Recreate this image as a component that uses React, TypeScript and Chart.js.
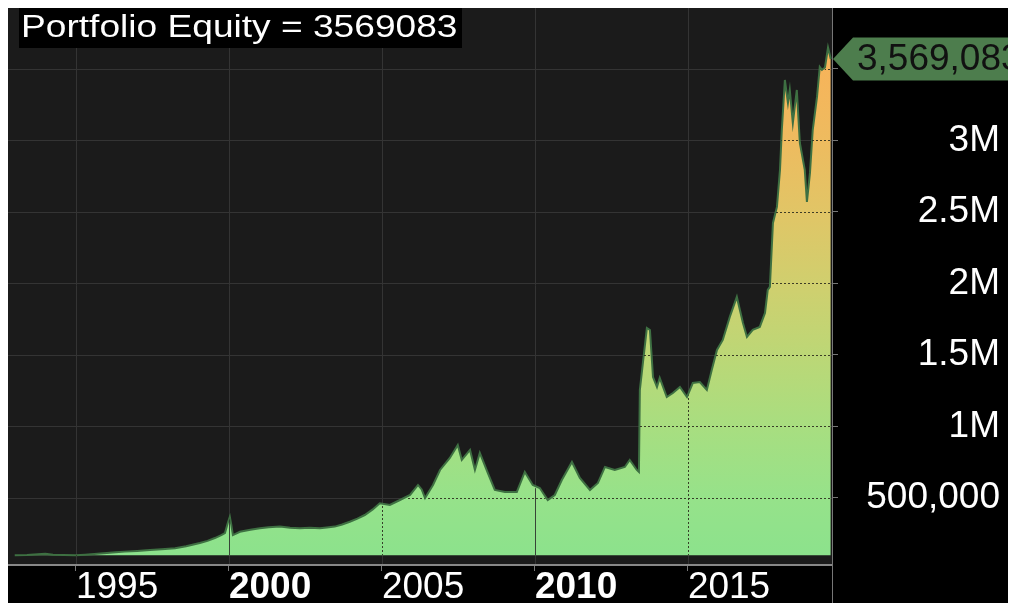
import React, { useEffect, useRef } from "react";
import { Chart, registerables } from "chart.js";

Chart.register(...registerables);

// ---- data ----
const years: number[] = [
  1993.0, 1993.4, 1993.75, 1994.0, 1994.25, 1994.6, 1995.0, 1995.3, 1995.7, 1996.01,
  1996.3, 1996.6, 1997.0, 1997.42, 1997.8, 1998.24, 1998.6, 1999.05, 1999.3, 1999.54,
  1999.75, 1999.87, 1999.97, 2000.03, 2000.08, 2000.13, 2000.36, 2000.7, 2001.01, 2001.3,
  2001.67, 2002.0, 2002.32, 2002.65, 2002.97, 2003.2, 2003.46, 2003.7, 2003.95, 2004.2,
  2004.44, 2004.7, 2004.93, 2005.26, 2005.59, 2005.92, 2006.18, 2006.3, 2006.41, 2006.67,
  2006.9, 2007.22, 2007.48, 2007.61, 2007.88, 2008.04, 2008.2, 2008.46, 2008.69, 2009.02,
  2009.41, 2009.67, 2009.93, 2010.16, 2010.42, 2010.65, 2010.88, 2011.21, 2011.47, 2011.8,
  2012.06, 2012.29, 2012.61, 2012.94, 2013.1, 2013.33, 2013.4, 2013.43, 2013.53, 2013.66,
  2013.76, 2013.86, 2013.99, 2014.08, 2014.31, 2014.51, 2014.74, 2014.97, 2015.16, 2015.39,
  2015.62, 2015.78, 2015.95, 2016.14, 2016.37, 2016.6, 2016.8, 2016.93, 2017.12, 2017.35,
  2017.52, 2017.61, 2017.68, 2017.78, 2017.91, 2018.01, 2018.07, 2018.17, 2018.27, 2018.33,
  2018.43, 2018.56, 2018.66, 2018.82, 2018.89, 2018.99, 2019.08, 2019.22, 2019.31, 2019.38,
  2019.48, 2019.58, 2019.67,
];

const equity: number[] = [
  100000, 102000, 106000, 110000, 104000, 102000, 100000, 104000, 110000, 115000,
  120000, 125000, 130000, 136000, 142000, 148000, 162000, 185000, 200000, 220000,
  240000, 255000, 330000, 369000, 310000, 241000, 264000, 278000, 288000, 295000,
  300000, 292000, 288000, 292000, 288000, 294000, 300000, 315000, 334000, 356000,
  381000, 420000, 463000, 451000, 486000, 521000, 591000, 560000, 500000, 591000,
  696000, 780000, 871000, 766000, 836000, 696000, 815000, 675000, 556000, 542000,
  542000, 682000, 591000, 570000, 486000, 521000, 626000, 752000, 640000, 556000,
  605000, 717000, 696000, 717000, 766000, 696000, 682000, 1255000, 1444000, 1689000,
  1675000, 1346000, 1276000, 1339000, 1206000, 1234000, 1276000, 1206000, 1304000, 1311000,
  1255000, 1395000, 1535000, 1605000, 1766000, 1906000, 1724000, 1626000, 1675000, 1696000,
  1794000, 1955000, 1976000, 2423000, 2535000, 2794000, 3073000, 3423000, 3262000, 3353000,
  3122000, 3353000, 2982000, 2794000, 2570000, 2773000, 3073000, 3304000, 3514000, 3493000,
  3510000, 3650000, 3569083,
];

const xTickYears: number[] = [1995, 2000, 2005, 2010, 2015];
const boldYears: number[] = [2000, 2010];
const yTickValues: number[] = [500000, 1000000, 1500000, 2000000, 2500000, 3000000, 3500000];
const yTickLabels: string[] = ["500,000", "1M", "1.5M", "2M", "2.5M", "3M", "3.5M"];
const titleText = "Portfolio Equity";
const startEquity = 100000;

const FONT = '"Liberation Sans", Arial, sans-serif';

export default function App() {
  const ref = useRef<HTMLCanvasElement>(null);

  useEffect(() => {
    const canvas = ref.current;
    if (!canvas) return;
    const last = equity[equity.length - 1];

    const bgPlugin = {
      id: "bgPlugin",
      beforeDraw(chart: any) {
        const { ctx, chartArea: a, width, height } = chart;
        const ys = chart.scales.y;
        const xs = chart.scales.x;
        ctx.save();
        ctx.fillStyle = "#000";
        ctx.fillRect(0, 0, width, height);
        ctx.fillStyle = "#1b1b1b";
        ctx.fillRect(a.left, a.top, a.right - a.left, a.bottom - a.top);
        ctx.strokeStyle = "#343434";
        ctx.lineWidth = 1;
        yTickValues.forEach((v) => {
          const p = Math.round(ys.getPixelForValue(v)) + 0.5;
          ctx.beginPath();
          ctx.moveTo(a.left, p);
          ctx.lineTo(a.right, p);
          ctx.stroke();
        });
        xTickYears.forEach((v) => {
          const p = Math.round(xs.getPixelForValue(v)) + 0.5;
          ctx.beginPath();
          ctx.moveTo(p, a.top);
          ctx.lineTo(p, a.bottom);
          ctx.stroke();
        });
        ctx.restore();
      },
    };

    const overGridPlugin = {
      id: "overGridPlugin",
      afterDatasetsDraw(chart: any) {
        const { ctx, chartArea: a } = chart;
        const ys = chart.scales.y;
        const xs = chart.scales.x;
        const pts = chart.getDatasetMeta(0).data;
        if (!pts.length) return;
        const base = ys.getPixelForValue(startEquity);
        ctx.save();
        ctx.beginPath();
        ctx.moveTo(pts[0].x, base);
        pts.forEach((p: any) => ctx.lineTo(p.x, p.y + 2));
        ctx.lineTo(pts[pts.length - 1].x, base);
        ctx.closePath();
        ctx.clip();
        ctx.lineWidth = 1;
        ctx.strokeStyle = "rgba(45,45,30,0.9)";
        ctx.setLineDash([2, 2]);
        yTickValues.forEach((v) => {
          const p = Math.round(ys.getPixelForValue(v)) + 0.5;
          ctx.beginPath();
          ctx.moveTo(a.left, p);
          ctx.lineTo(a.right, p);
          ctx.stroke();
        });
        xTickYears.forEach((v) => {
          const p = Math.round(xs.getPixelForValue(v)) + 0.5;
          ctx.setLineDash(boldYears.includes(v) ? [] : [2, 2]);
          ctx.strokeStyle = boldYears.includes(v) ? "rgba(40,40,40,0.85)" : "rgba(45,45,30,0.9)";
          ctx.beginPath();
          ctx.moveTo(p, a.top);
          ctx.lineTo(p, a.bottom);
          ctx.stroke();
        });
        ctx.restore();
      },
    };

    const labelPlugin = {
      id: "labelPlugin",
      afterDraw(chart: any) {
        const { ctx, chartArea: a, width, height } = chart;
        const ys = chart.scales.y;
        ctx.save();
        // separator line of the right axis down to the bottom
        ctx.strokeStyle = "#777";
        ctx.lineWidth = 1;
        ctx.beginPath();
        ctx.moveTo(Math.round(a.right) + 0.5, a.bottom);
        ctx.lineTo(Math.round(a.right) + 0.5, height);
        ctx.stroke();

        // title box
        ctx.fillStyle = "#000";
        ctx.fillRect(a.left + 11, a.top + 2, 443, 40);
        ctx.fillStyle = "#fff";
        ctx.font = `32px ${FONT}`;
        ctx.textBaseline = "alphabetic";
        ctx.textAlign = "left";
        ctx.save();
        ctx.translate(a.left + 13, a.top + 31);
        ctx.scale(1.16, 1);
        ctx.fillText(`${titleText} = ${last}`, 0, 0);
        ctx.restore();

        // last value tag
        const ty = ys.getPixelForValue(last);
        const tipX = a.right + 1;
        const rectX = tipX + 20;
        const h = 43;
        ctx.fillStyle = "rgb(77,125,77)";
        ctx.beginPath();
        ctx.moveTo(tipX, ty);
        ctx.lineTo(rectX, ty - h / 2);
        ctx.lineTo(width, ty - h / 2);
        ctx.lineTo(width, ty + h / 2);
        ctx.lineTo(rectX, ty + h / 2);
        ctx.closePath();
        ctx.fill();
        ctx.fillStyle = "#111";
        ctx.font = `37px ${FONT}`;
        ctx.textBaseline = "middle";
        ctx.fillText(last.toLocaleString("en-US"), rectX + 4, ty + 1);
        ctx.restore();
      },
    };

    const chart = new Chart(canvas, {
      type: "line",
      data: {
        datasets: [
          {
            label: "Portfolio Equity",
            data: years.map((x, i) => ({ x, y: equity[i] })),
            borderColor: "rgb(62,112,66)",
            borderWidth: 2,
            pointRadius: 0,
            tension: 0,
            fill: { value: startEquity },
            backgroundColor: (c: any) => {
              const chart = c.chart;
              const a = chart.chartArea;
              const ys = chart.scales.y;
              if (!a || !ys) return "rgb(150,226,138)";
              const g = chart.ctx.createLinearGradient(
                0,
                ys.getPixelForValue(startEquity),
                0,
                ys.getPixelForValue(3500000)
              );
              g.addColorStop(0, "rgb(140,226,140)");
              g.addColorStop(0.118, "rgb(150,226,138)");
              g.addColorStop(0.265, "rgb(168,222,128)");
              g.addColorStop(0.412, "rgb(188,215,118)");
              g.addColorStop(0.559, "rgb(208,207,110)");
              g.addColorStop(0.706, "rgb(225,197,102)");
              g.addColorStop(0.853, "rgb(238,187,95)");
              g.addColorStop(1, "rgb(246,180,90)");
              return g;
            },
          },
        ],
      },
      options: {
        responsive: false,
        animation: false,
        devicePixelRatio: 1,
        layout: { padding: { right: 8, left: 0, top: 0, bottom: 0 } },
        plugins: {
          legend: { display: false },
          tooltip: { enabled: false },
          title: { display: false },
        },
        scales: {
          x: {
            type: "linear",
            min: 1992.78,
            max: 2019.71,
            afterBuildTicks: (s: any) => {
              s.ticks = xTickYears.map((v) => ({ value: v }));
            },
            afterFit: (s: any) => {
              s.height = 38;
              s.paddingLeft = 0;
              s.paddingRight = 0;
            },
            grid: { drawOnChartArea: false, drawTicks: true, tickLength: 6, tickColor: "#777" },
            border: { display: true, color: "#888", width: 2 },
            ticks: {
              color: "#fff",
              maxRotation: 0,
              autoSkip: false,
              align: "start",
              padding: 2,
              font: (c: any) => ({
                family: FONT,
                size: 37,
                lineHeight: 0.8,
                weight: c && c.tick && boldYears.includes(c.tick.value) ? "bold" : "normal",
              }),
              callback: (v: any) => String(v),
            },
          },
          y: {
            type: "linear",
            position: "right",
            min: 31500,
            max: 3940000,
            afterBuildTicks: (s: any) => {
              s.ticks = yTickValues.map((v) => ({ value: v }));
            },
            afterFit: (s: any) => {
              s.width = 168;
              s.paddingTop = 0;
              s.paddingBottom = 0;
            },
            grid: { drawOnChartArea: false, drawTicks: true, tickLength: 6, tickColor: "#777" },
            border: { display: true, color: "#777", width: 1 },
            ticks: {
              color: "#fff",
              crossAlign: "far",
              padding: 0,
              font: { family: FONT, size: 37 },
              callback: (_v: any, i: number) => yTickLabels[i] ?? "",
            },
          },
        },
      },
      plugins: [bgPlugin, overGridPlugin, labelPlugin],
    } as any);

    return () => chart.destroy();
  }, []);

  return (
    <div style={{ marginTop: -2 }}>
      <canvas ref={ref} width={1000} height={597} style={{ display: "block" }} />
    </div>
  );
}
